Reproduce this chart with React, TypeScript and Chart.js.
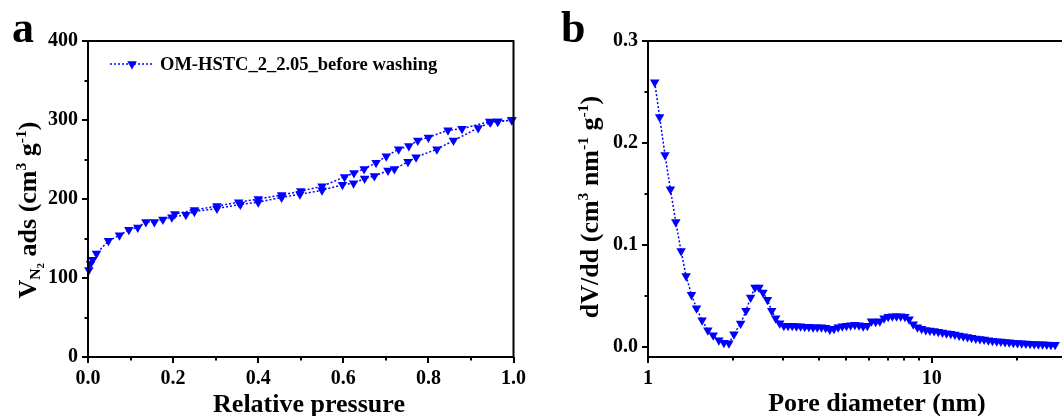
import React, { useEffect, useRef } from 'react';
import { Chart, registerables } from 'chart.js';

Chart.register(...registerables);

const SERIF = '"Liberation Serif", "Times New Roman", Times, serif';
const BLUE = '#0000FF';

// ---------- Panel a: N2 isotherm ----------
const adsorptionP = [0.002, 0.006, 0.011, 0.02, 0.048, 0.074, 0.096, 0.117, 0.136, 0.156, 0.176, 0.197, 0.23, 0.25, 0.303, 0.358, 0.4, 0.455, 0.498, 0.55, 0.598, 0.624, 0.65, 0.673, 0.705, 0.72, 0.752, 0.771, 0.82, 0.859, 0.917, 0.946, 0.963, 0.996];
const adsorptionV = [110, 118, 123, 131, 147, 154, 161, 164, 171, 171, 174, 177, 180, 184, 188, 193, 196, 202, 206, 211, 218, 220, 226, 229, 236, 238, 247, 253, 263, 274, 290, 297, 298, 300];
const desorptionP = [0.996, 0.963, 0.944, 0.879, 0.846, 0.8, 0.775, 0.754, 0.73, 0.701, 0.677, 0.649, 0.625, 0.603, 0.55, 0.5, 0.455, 0.4, 0.354, 0.303, 0.25, 0.204];
const desorptionV = [300, 298, 298, 289, 287, 278, 274, 267, 263, 254, 246, 238, 233, 228, 216, 210, 205, 200, 196, 191, 186, 181];
const seriesLabel = 'OM-HSTC_2_2.05_before washing';

const isoXMajor = [0, 0.2, 0.4, 0.6, 0.8, 1.0];
const isoXMinor = [0.1, 0.3, 0.5, 0.7, 0.9];
const isoYMajor = [0, 100, 200, 300, 400];
const isoYMinor = [50, 150, 250, 350];

// ---------- Panel b: pore size distribution ----------
const poreDiameter = [1.056, 1.099, 1.148, 1.199, 1.253, 1.308, 1.362, 1.423, 1.482, 1.551, 1.625, 1.697, 1.777, 1.851, 1.928, 2.008, 2.12, 2.214, 2.299, 2.382, 2.46, 2.542, 2.634, 2.728, 2.818, 2.911,
  3.011, 3.115, 3.222, 3.333, 3.448, 3.567, 3.69, 3.817, 3.948, 4.084, 4.225, 4.37, 4.521, 4.677, 4.838, 5.004, 5.176, 5.355, 5.539, 5.73, 5.927, 6.131, 6.342, 6.561, 6.787, 7.02, 7.262, 7.512, 7.771, 8.039, 8.316, 8.602, 8.898, 9.205, 9.52, 9.847,
  10.19, 10.54, 10.9, 11.27, 11.66, 12.06, 12.48, 12.91, 13.36, 13.81, 14.29, 14.78, 15.29, 15.82, 16.36, 16.93, 17.51, 18.11, 18.74, 19.38, 20.04, 20.74, 21.45, 22.19, 22.95, 23.74, 24.56, 25.41, 26.28, 27.19];
const poreVolume = [0.2595, 0.2253, 0.1882, 0.1546, 0.1224, 0.0938, 0.0694, 0.051, 0.0378, 0.026, 0.0161, 0.0112, 0.0063, 0.0039, 0.0033, 0.0122, 0.0227, 0.0352, 0.0484, 0.0582, 0.0582, 0.0533, 0.0461, 0.0352, 0.028, 0.023,
  0.0205, 0.0205, 0.0205, 0.02, 0.02, 0.0195, 0.0195, 0.019, 0.019, 0.019, 0.0185, 0.017, 0.0175, 0.019, 0.02, 0.0205, 0.021, 0.0215, 0.021, 0.02, 0.0205, 0.025, 0.0245, 0.025, 0.028, 0.0295, 0.03, 0.03, 0.03, 0.0295, 0.027, 0.022, 0.019, 0.0175, 0.0165, 0.016,
  0.0153, 0.0147, 0.014, 0.0133, 0.0126, 0.012, 0.0111, 0.0103, 0.0095, 0.0088, 0.0081, 0.0075, 0.007, 0.0064, 0.0059, 0.0054, 0.005, 0.0046, 0.0043, 0.004, 0.0037, 0.0034, 0.0031, 0.0029, 0.0027, 0.0025, 0.0023, 0.0021, 0.002, 0.0019];

const psdXMajor = [1, 10];
const psdXMinor = [2, 3, 4, 5, 6, 7, 8, 9, 20];
const psdYMajor = [0, 0.1, 0.2, 0.3];
const psdYMinor = [0.05, 0.15, 0.25];

type Seg = { t: string; k?: 'sup' | 'sub' | 'sub2' };

const isoYTitle: Seg[] = [{ t: 'V' }, { t: 'N', k: 'sub' }, { t: '2', k: 'sub2' }, { t: ' ads (cm' }, { t: '3', k: 'sup' }, { t: ' g' }, { t: '-1', k: 'sup' }, { t: ')' }];
const isoXTitle: Seg[] = [{ t: 'Relative pressure' }];
const psdYTitle: Seg[] = [{ t: 'dV/dd (cm' }, { t: '3', k: 'sup' }, { t: ' nm' }, { t: '-1', k: 'sup' }, { t: ' g' }, { t: '-1', k: 'sup' }, { t: ')' }];
const psdXTitle: Seg[] = [{ t: 'Pore diameter (nm)' }];

const TITLE_SIZE = 26;
const TICK_FONT = { family: SERIF, size: 20, weight: 'bold' as const };

function segFont(size: number, k?: string) {
  const s = k === 'sub2' ? size * 0.42 : k ? size * 0.6 : size;
  return `bold ${s}px ${SERIF}`;
}

function drawRich(ctx: CanvasRenderingContext2D, segs: Seg[], size: number, cx: number, cy: number, rotated: boolean) {
  ctx.save();
  let w = 0;
  for (const s of segs) {
    ctx.font = segFont(size, s.k);
    w += ctx.measureText(s.t).width;
  }
  ctx.translate(cx, cy);
  if (rotated) ctx.rotate(-Math.PI / 2);
  ctx.fillStyle = '#000';
  ctx.textAlign = 'left';
  ctx.textBaseline = 'alphabetic';
  let x = -w / 2;
  for (const s of segs) {
    ctx.font = segFont(size, s.k);
    const dy = s.k === 'sup' ? -0.4 * size : s.k === 'sub' ? 0.16 * size : s.k === 'sub2' ? 0.3 * size : 0;
    ctx.fillText(s.t, x, dy);
    x += ctx.measureText(s.t).width;
  }
  ctx.restore();
}

function triangleDown(ctx: CanvasRenderingContext2D, x: number, y: number, r: number) {
  ctx.beginPath();
  ctx.moveTo(x, y + r);
  ctx.lineTo(x - r * 0.866, y - r * 0.5);
  ctx.lineTo(x + r * 0.866, y - r * 0.5);
  ctx.closePath();
  ctx.fill();
}

type Decor = {
  fullBox: boolean;
  xMajor: number[]; xMinor: number[]; yMajor: number[]; yMinor: number[];
  xTitle: Seg[]; yTitle: Seg[];
  xTitlePos: [number, number]; yTitlePos: [number, number];
  letter: string; letterPos: [number, number];
  legend?: boolean;
};

function decorPlugin(d: Decor) {
  return {
    id: 'decor',
    afterDraw(chart: any) {
      const { ctx, chartArea: a, scales } = chart;
      const xs = scales.x;
      const ys = scales.y;
      ctx.save();
      ctx.strokeStyle = '#000';
      ctx.lineWidth = 2;
      ctx.setLineDash([]);
      ctx.beginPath();
      if (d.fullBox) {
        ctx.rect(a.left, a.top, a.right - a.left, a.bottom - a.top);
      } else {
        ctx.moveTo(chart.width + 2, a.top);
        ctx.lineTo(a.left, a.top);
        ctx.lineTo(a.left, a.bottom);
        ctx.lineTo(chart.width + 2, a.bottom);
      }
      ctx.stroke();
      ctx.beginPath();
      for (const v of d.xMajor) {
        const p = Math.round(xs.getPixelForValue(v));
        ctx.moveTo(p, a.bottom); ctx.lineTo(p, a.bottom + 6);
      }
      for (const v of d.xMinor) {
        const p = Math.round(xs.getPixelForValue(v));
        ctx.moveTo(p, a.bottom); ctx.lineTo(p, a.bottom + 3.5);
      }
      for (const v of d.yMajor) {
        const p = Math.round(ys.getPixelForValue(v));
        ctx.moveTo(a.left, p); ctx.lineTo(a.left - 6, p);
      }
      for (const v of d.yMinor) {
        const p = Math.round(ys.getPixelForValue(v));
        ctx.moveTo(a.left, p); ctx.lineTo(a.left - 3.5, p);
      }
      ctx.stroke();

      drawRich(ctx, d.xTitle, TITLE_SIZE, d.xTitlePos[0], d.xTitlePos[1], false);
      drawRich(ctx, d.yTitle, TITLE_SIZE, d.yTitlePos[0], d.yTitlePos[1], true);

      ctx.fillStyle = '#000';
      ctx.font = `bold 44px ${SERIF}`;
      ctx.textAlign = 'left';
      ctx.textBaseline = 'alphabetic';
      ctx.fillText(d.letter, d.letterPos[0], d.letterPos[1]);

      if (d.legend) {
        ctx.strokeStyle = BLUE;
        ctx.lineWidth = 1.5;
        ctx.setLineDash([2, 2]);
        ctx.beginPath();
        ctx.moveTo(110, 64);
        ctx.lineTo(153, 64);
        ctx.stroke();
        ctx.setLineDash([]);
        ctx.fillStyle = BLUE;
        triangleDown(ctx, 132, 64, 5.5);
        ctx.fillStyle = '#000';
        ctx.font = `bold 18.5px ${SERIF}`;
        ctx.fillText(seriesLabel, 160, 70);
      }
      ctx.restore();
    },
  };
}

function series(xv: number[], yv: number[]) {
  return {
    data: xv.map((x, i) => ({ x, y: yv[i] })),
    showLine: true,
    borderColor: BLUE,
    borderWidth: 1.5,
    borderDash: [2, 2],
    pointStyle: 'triangle',
    rotation: 180,
    pointRadius: 5.5,
    pointBackgroundColor: BLUE,
    pointBorderColor: BLUE,
    pointBorderWidth: 0,
    clip: false,
    tension: 0,
  };
}

function axisCommon(major: number[], fmt: (v: number) => string, size: (s: any) => void) {
  return {
    afterBuildTicks: (s: any) => { s.ticks = major.map((v) => ({ value: v })); },
    afterFit: size,
    grid: { display: false, drawTicks: true, tickLength: 5 },
    border: { display: false },
    ticks: { font: TICK_FONT, color: '#000', padding: 5, maxRotation: 0, autoSkip: false, callback: (v: any) => fmt(Number(v)) },
  };
}

function isoConfig(): any {
  return {
    type: 'scatter',
    data: { datasets: [series(adsorptionP, adsorptionV), series(desorptionP, desorptionV)] },
    options: {
      animation: false,
      responsive: false,
      layout: { padding: { left: 0, right: 17, top: 41, bottom: 0 } },
      plugins: { legend: { display: false }, tooltip: { enabled: false } },
      scales: {
        x: { type: 'linear', min: 0, max: 1, ...axisCommon(isoXMajor, (v) => v.toFixed(1), (s) => { s.height = 59; }) },
        y: { type: 'linear', min: 0, max: 400, ...axisCommon(isoYMajor, (v) => String(Math.round(v)), (s) => { s.width = 88; }) },
      },
    },
    plugins: [decorPlugin({
      fullBox: true,
      xMajor: isoXMajor, xMinor: isoXMinor, yMajor: isoYMajor, yMinor: isoYMinor,
      xTitle: isoXTitle, yTitle: isoYTitle,
      xTitlePos: [309, 412], yTitlePos: [36, 210],
      letter: 'a', letterPos: [12, 42],
      legend: true,
    })],
  };
}

function psdConfig(): any {
  return {
    type: 'scatter',
    data: { datasets: [series(poreDiameter, poreVolume)] },
    options: {
      animation: false,
      responsive: false,
      layout: { padding: { left: 0, right: 0, top: 41, bottom: 0 } },
      plugins: { legend: { display: false }, tooltip: { enabled: false } },
      scales: {
        x: { type: 'logarithmic', min: 1, max: 27.5, ...axisCommon(psdXMajor, (v) => String(v), (s) => { s.height = 59; }) },
        y: { type: 'linear', min: -0.0101, max: 0.3, ...axisCommon(psdYMajor, (v) => v.toFixed(1), (s) => { s.width = 117; }) },
      },
    },
    plugins: [decorPlugin({
      fullBox: false,
      xMajor: psdXMajor, xMinor: psdXMinor, yMajor: psdYMajor, yMinor: psdYMinor,
      xTitle: psdXTitle, yTitle: psdYTitle,
      xTitlePos: [877 - 531, 411], yTitlePos: [598 - 531, 207],
      letter: 'b', letterPos: [561 - 531, 42],
    })],
  };
}

function ChartCanvas({ build, left }: { build: () => any; left: number }) {
  const ref = useRef<HTMLCanvasElement>(null);
  useEffect(() => {
    const chart = new Chart(ref.current as HTMLCanvasElement, build());
    return () => chart.destroy();
  }, []);
  return (
    <canvas
      ref={ref}
      width={531}
      height={416}
      style={{ position: 'absolute', left, top: 0, width: 531, height: 416 }}
    />
  );
}

export default function App() {
  return (
    <div style={{ position: 'absolute', left: 0, top: 0, width: 1062, height: 416, background: '#fff', overflow: 'hidden' }}>
      <ChartCanvas build={isoConfig} left={0} />
      <ChartCanvas build={psdConfig} left={531} />
    </div>
  );
}
